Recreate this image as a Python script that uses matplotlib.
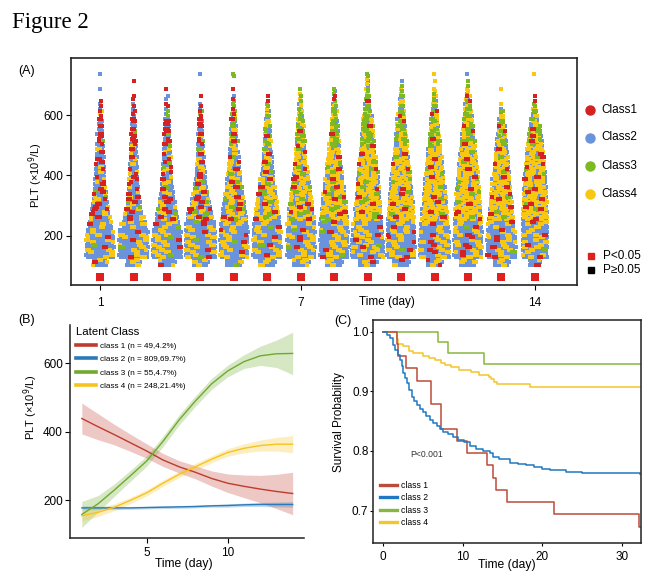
import numpy as np
import matplotlib
matplotlib.use("Agg")
import matplotlib.pyplot as plt
from matplotlib.lines import Line2D

plt.rcParams['font.family'] = ['Liberation Sans', 'DejaVu Sans']

W, H = 666.0, 586.0

# ------------------------------------------------------------------ Panel A data
DAYS = [1, 2, 3, 4, 5, 6, 7, 8, 9, 10, 11, 12, 13, 14]
TICK_DAYS = [1, 7, 14]
BIN_START = 100          # PLT bins of 25 (x10^9/L) starting at 100
BIN_WIDTH = 25
# number of patients per 25-unit PLT bin, per day
COUNT_D1 = [20, 40, 40, 40, 38, 33, 28, 24, 20, 18, 15, 13, 12, 11, 10, 9, 8, 7, 6, 5, 4, 3, 0, 1, 0, 1]
COUNT_D2 = [20, 40, 40, 40, 40, 34, 28, 23, 19, 17, 15, 13, 12, 11, 10, 9, 8, 7, 6, 5, 4, 2, 2, 0, 1, 0]
COUNT_D3 = [22, 42, 42, 40, 40, 35, 30, 26, 22, 18, 15, 13, 12, 11, 10, 9, 8, 7, 6, 5, 3, 2, 2, 1, 0, 0]
COUNT_D4 = [22, 42, 42, 42, 42, 40, 36, 32, 27, 22, 18, 15, 13, 11, 10, 9, 8, 7, 6, 5, 4, 2, 1, 0, 0, 1]
COUNT_D5 = [22, 40, 40, 40, 40, 38, 35, 32, 29, 26, 22, 19, 17, 15, 13, 11, 10, 9, 8, 7, 5, 3, 2, 1, 0, 2]
COUNT_D6 = [22, 40, 40, 40, 40, 38, 35, 32, 29, 26, 22, 19, 17, 15, 13, 11, 10, 9, 8, 6, 4, 3, 1, 0, 0, 0]
COUNT_D7 = [22, 40, 40, 40, 40, 40, 37, 34, 32, 29, 26, 23, 20, 17, 15, 14, 13, 11, 10, 8, 6, 4, 3, 1, 0, 0]
COUNT_D8 = [22, 40, 40, 40, 40, 40, 38, 36, 34, 31, 28, 25, 22, 20, 17, 15, 14, 12, 10, 8, 7, 5, 3, 2, 0, 0]
COUNT_D9 = [25, 45, 45, 44, 42, 40, 38, 37, 35, 33, 31, 30, 28, 25, 23, 21, 19, 18, 16, 15, 9, 7, 5, 4, 3, 2]
COUNT_D10 = [22, 40, 40, 40, 39, 38, 38, 36, 34, 32, 30, 28, 26, 23, 20, 18, 16, 14, 12, 10, 8, 6, 5, 3, 1, 0]
COUNT_D11 = [22, 42, 42, 41, 40, 38, 36, 35, 33, 32, 30, 28, 26, 24, 22, 19, 16, 14, 12, 10, 8, 6, 4, 2, 1, 1]
COUNT_D12 = [22, 40, 40, 40, 40, 39, 38, 37, 35, 34, 32, 30, 28, 26, 24, 21, 19, 16, 14, 12, 9, 7, 5, 3, 1, 1]
COUNT_D13 = [22, 40, 40, 40, 39, 37, 35, 33, 31, 29, 27, 25, 23, 21, 19, 17, 15, 12, 10, 7, 4, 1, 0, 1, 0, 0]
COUNT_D14 = [15, 35, 36, 36, 36, 36, 36, 35, 34, 33, 32, 31, 29, 27, 25, 23, 20, 17, 14, 10, 6, 3, 1, 0, 0, 1]
COUNTS = [COUNT_D1, COUNT_D2, COUNT_D3, COUNT_D4, COUNT_D5, COUNT_D6, COUNT_D7,
          COUNT_D8, COUNT_D9, COUNT_D10, COUNT_D11, COUNT_D12, COUNT_D13, COUNT_D14]
# class shares (%) [Class1, Class2, Class3, Class4] in PLT zones <250, 250-500, >=500
SHARE_LOW = [[3, 78, 1, 18], [3, 78, 1, 18], [3, 77, 2, 18], [4, 75, 2, 19], [3, 75, 2, 20],
             [3, 75, 2, 20], [4, 74, 2, 20], [4, 74, 2, 20], [5, 73, 1, 21], [5, 73, 1, 21],
             [6, 73, 1, 20], [6, 73, 1, 20], [6, 74, 1, 19], [5, 73, 1, 21]]
SHARE_MID = [[18, 66, 2, 14], [18, 66, 2, 14], [15, 63, 5, 17], [14, 58, 6, 22], [8, 52, 8, 32],
             [8, 48, 8, 36], [7, 42, 9, 42], [6, 38, 8, 48], [5, 36, 7, 52], [5, 38, 4, 53],
             [5, 38, 4, 53], [5, 38, 5, 52], [6, 40, 3, 51], [8, 36, 3, 53]]
SHARE_HIGH = [[50, 45, 2, 3], [50, 42, 4, 4], [45, 40, 10, 5], [45, 35, 10, 10], [18, 35, 27, 20],
              [12, 32, 30, 26], [8, 22, 40, 30], [6, 20, 40, 34], [5, 18, 42, 35], [3, 20, 37, 40],
              [4, 20, 32, 44], [4, 22, 30, 44], [3, 28, 29, 40], [10, 28, 27, 35]]
P_SIG = [True, True, True, True, True, True, True, True, True, True, True, True, True, True]
A_CLASSES = ["Class1", "Class2", "Class3", "Class4"]
A_COLORS = ["#D42222", "#6B93DB", "#7DBA22", "#F8C712"]

# ------------------------------------------------------------------ Panel B data
B_DAYS = [1, 2, 3, 4, 5, 6, 7, 8, 9, 10, 11, 12, 13, 14]
C1_MEAN = [439, 415, 392, 368, 344, 318, 298, 282, 264, 250, 241, 233, 226, 220]
C1_HALF = [45, 38, 30, 25, 21, 19, 18, 19, 22, 27, 33, 40, 50, 62]
C2_MEAN = [178, 178, 178, 178, 179, 180, 181, 182, 184, 185, 187, 188, 188, 188]
C2_HALF = [6, 5, 5, 4, 4, 4, 4, 4, 4, 5, 5, 6, 7, 8]
C3_MEAN = [159, 190, 230, 272, 315, 372, 435, 490, 540, 578, 605, 622, 628, 629]
C3_HALF = [38, 24, 18, 16, 15, 15, 15, 15, 16, 17, 20, 28, 40, 62]
C4_MEAN = [155, 165, 180, 200, 222, 250, 276, 298, 320, 340, 352, 360, 364, 364]
C4_HALF = [15, 12, 10, 9, 9, 9, 9, 10, 10, 11, 13, 16, 20, 25]
B_LABELS = ["class 1 (n = 49,4.2%)", "class 2 (n = 809,69.7%)",
            "class 3 (n = 55,4.7%)", "class 4 (n = 248,21.4%)"]
B_COLORS = ["#BF3B2C", "#2A7AB9", "#6FAA2E", "#F7C31E"]

# ------------------------------------------------------------------ Panel C data
KM1_T = [0, 1.7, 1.8, 2.9, 4.2, 5.95, 7.26, 9.3, 10.5, 13.1, 13.76, 14.2, 15.5, 21.5, 32.2, 32.3]
KM1_S = [1.0, 0.980, 0.959, 0.939, 0.918, 0.878, 0.837, 0.816, 0.796, 0.776, 0.755, 0.735, 0.714, 0.694, 0.673, 0.673]
KM2_T = [0, 0.2, 0.5, 0.85, 1.2, 1.5, 1.8, 2.1, 2.3, 2.5, 2.7, 2.95, 3.25, 3.6, 3.9, 4.2, 4.6, 5.0,
         5.4, 5.9, 6.3, 6.7, 7.1, 7.55, 8.2, 8.8, 9.4, 10.1, 10.9, 11.7, 12.5, 13.4, 13.8, 14.6,
         15.9, 17.0, 18.0, 18.9, 20.0, 21.0, 23.0, 25.0, 32.3]
KM2_S = [1.0, 1.0, 0.995, 0.989, 0.978, 0.969, 0.961, 0.953, 0.942, 0.930, 0.922, 0.914, 0.902, 0.891,
         0.884, 0.877, 0.871, 0.866, 0.859, 0.852, 0.846, 0.841, 0.836, 0.832, 0.828, 0.824, 0.819,
         0.815, 0.809, 0.804, 0.800, 0.796, 0.789, 0.786, 0.780, 0.778, 0.776, 0.773, 0.770, 0.768,
         0.765, 0.763, 0.761]
KM3_T = [0, 6.84, 8.18, 12.7, 32.3]
KM3_S = [1.0, 0.982, 0.964, 0.945, 0.945]
KM4_T = [0, 1.7, 1.9, 2.5, 3.3, 3.8, 5.0, 5.8, 6.5, 7.2, 7.8, 8.5, 9.5, 11.0, 12.0, 13.3, 13.6,
         13.9, 14.3, 18.5, 32.3]
KM4_S = [1.0, 0.988, 0.980, 0.976, 0.968, 0.964, 0.960, 0.956, 0.952, 0.948, 0.944, 0.940, 0.936,
         0.932, 0.928, 0.924, 0.920, 0.916, 0.912, 0.908, 0.908]
C_LABELS = ["class 1", "class 2", "class 3", "class 4"]
C_COLORS = ["#BC4B3C", "#1F78C1", "#86B83F", "#F5C52A"]


def px(x, y):
    """pixel (from top-left) -> figure fraction"""
    return x / W, 1 - y / H


fig = plt.figure(figsize=(6.66, 5.86), dpi=100)
fig.text(*px(12, 27.7), "Figure 2", family=["Liberation Serif", "DejaVu Serif"],
         fontsize=16.5, va="baseline", ha="left")

# ================================================================== Panel A
axA = fig.add_axes([71 / W, 1 - 285 / H, 506 / W, 227 / H])
axA.set_xlim(0.13, 15.26)
axA.set_ylim(37, 789)

dx = 2.1 / 33.45  # horizontal spacing of swarm points (day units)
allx, ally, allc = [], [], []
for di, day in enumerate(DAYS):
    k = 0
    for b, n in enumerate(COUNTS[di]):
        if n == 0:
            continue
        lo = BIN_START + b * BIN_WIDTH
        sizes = [n // 3 + (1 if r < n % 3 else 0) for r in range(3)]
        for order, r in enumerate([1, 0, 2]):
            m = sizes[order]
            if m == 0:
                continue
            yv = lo + BIN_WIDTH * (r + 0.5) / 3.0
            shift = dx / 4 if (b * 3 + r) % 2 else -dx / 4
            for j in range(m):
                xv = day + (j - (m - 1) / 2.0) * dx + shift
                if yv < 250:
                    sh = SHARE_LOW[di]
                elif yv < 500:
                    sh = SHARE_MID[di]
                else:
                    sh = SHARE_HIGH[di]
                cum = np.cumsum(sh) / float(sum(sh))
                u = ((k // 2) * 0.6180339887 + di * 0.2718) % 1.0
                c = int(np.searchsorted(cum, u, side="right"))
                c = min(c, 3)
                allx.append(xv)
                ally.append(yv)
                allc.append(c)
                k += 1
allx = np.array(allx); ally = np.array(ally); allc = np.array(allc)
for z, c in enumerate([1, 3, 2, 0]):
    sel = allc == c
    axA.scatter(allx[sel], ally[sel], s=5.0, marker="s", color=A_COLORS[c],
                linewidths=0, zorder=2 + z * 0.1)

# significance markers
for di, day in enumerate(DAYS):
    axA.scatter([day], [64], s=26, marker="s", color="#E0201E" if P_SIG[di] else "black",
                linewidths=0, zorder=4)

axA.set_xticks(TICK_DAYS)
axA.set_xticklabels([str(t) for t in TICK_DAYS])
axA.set_yticks([200, 400, 600])
axA.tick_params(axis="both", labelsize=8.5, length=3.5, width=0.8, direction="out")
axA.tick_params(axis="x", pad=5.5)
axA.tick_params(axis="y", pad=2)
for sp in axA.spines.values():
    sp.set_linewidth(1.2)
    sp.set_color("#222222")
axA.set_ylabel("PLT (\u00d710$^9$/L)", fontsize=8)
axA.yaxis.set_label_coords(-0.051, 0.485)
fig.text(*px(387, 301.7), "Time (day)", fontsize=8.5, ha="center", va="center")
fig.text(*px(27, 70.7), "(A)", fontsize=9, ha="center", va="center")

# class legend
for i, (name, col) in enumerate(zip(A_CLASSES, A_COLORS)):
    yy = [110, 137.5, 166, 194][i]
    fig.add_artist(Line2D([590 / W], [1 - yy / H], marker="o", markersize=6.5,
                          color=col, linestyle="none"))
    fig.text(*px(601.5, yy), name, fontsize=8.5, ha="left", va="center")
for yy, col, lab in [(256, "#E0201E", "P<0.05"), (270, "black", "P\u22650.05")]:
    fig.add_artist(Line2D([590.7 / W], [1 - yy / H], marker="s", markersize=3.8,
                          color=col, linestyle="none"))
    fig.text(*px(603.5, yy), lab, fontsize=8.5, ha="left", va="center")

# ================================================================== Panel B
axB = fig.add_axes([70 / W, 1 - 537.7 / H, 234 / W, 212.7 / H])
means = [C1_MEAN, C2_MEAN, C3_MEAN, C4_MEAN]
halves = [C1_HALF, C2_HALF, C3_HALF, C4_HALF]
for m, h, col, lab in zip(means, halves, B_COLORS, B_LABELS):
    m = np.array(m, float); h = np.array(h, float)
    axB.fill_between(B_DAYS, m - h, m + h, color=col, alpha=0.28, linewidth=0)
    axB.plot(B_DAYS, m, color=col, lw=1.0, label=lab)
axB.set_xlim(0.27, 14.7)
axB.set_ylim(91, 712)
axB.set_xticks([5, 10])
axB.set_yticks([200, 400, 600])
axB.spines["top"].set_visible(False)
axB.spines["right"].set_visible(False)
for sp in ["left", "bottom"]:
    axB.spines[sp].set_linewidth(1.1)
    axB.spines[sp].set_color("#222222")
axB.tick_params(axis="both", labelsize=8.5, length=3.5, width=0.8)
axB.tick_params(axis="x", pad=3.5)
axB.tick_params(axis="y", pad=1.5)
axB.set_ylabel("PLT (\u00d710$^9$/L)", fontsize=8)
axB.yaxis.set_label_coords(-0.13, 0.612)
axB.set_xlabel("Time (day)", fontsize=8.7)
axB.xaxis.set_label_coords(0.486, -0.095)
handlesB = [Line2D([], [], color=c, lw=2.6) for c in B_COLORS]
legB = axB.legend(handlesB, B_LABELS, title="Latent Class", loc="upper left",
                  bbox_to_anchor=(0.0, 1.019), frameon=False, fontsize=5.9,
                  title_fontsize=8.2, handlelength=2.5, handletextpad=0.5,
                  labelspacing=0.68, borderpad=0.2, alignment="left")
fig.text(*px(27, 320), "(B)", fontsize=9, ha="center", va="center")

# ================================================================== Panel C
axC = fig.add_axes([373.3 / W, 1 - 542.7 / H, 267.7 / W, 222.7 / H])
# draw in an order so that blue is on top of red where they overlap
for t, s, col in [(KM3_T, KM3_S, C_COLORS[2]), (KM4_T, KM4_S, C_COLORS[3]),
                  (KM1_T, KM1_S, C_COLORS[0]), (KM2_T, KM2_S, C_COLORS[1])]:
    axC.step(t, s, where="post", color=col, lw=1.1)
axC.set_xlim(-1.25, 32.4)
axC.set_ylim(0.646, 1.0196)
axC.set_xticks([0, 10, 20, 30])
axC.set_yticks([0.7, 0.8, 0.9, 1.0])
axC.set_yticklabels(["0.7", "0.8", "0.9", "1.0"])
for sp in axC.spines.values():
    sp.set_linewidth(1.1)
    sp.set_color("#222222")
axC.tick_params(axis="both", labelsize=8.5, length=2.5, width=0.8)
axC.tick_params(axis="x", pad=3.5)
axC.tick_params(axis="y", pad=1)
axC.set_ylabel("Survival Probability", fontsize=8.5)
axC.yaxis.set_label_coords(-0.104, 0.54)
axC.set_xlabel("Time (day)", fontsize=8.7)
axC.xaxis.set_label_coords(0.498, -0.073)
axC.text(5.4, 0.794, "P<0.001", fontsize=6.2, ha="center", va="center", color="#333333")
handlesC = [Line2D([], [], color=c, lw=2.4) for c in C_COLORS]
axC.legend(handlesC, C_LABELS, loc="lower left", bbox_to_anchor=(0.0, 0.04),
           frameon=False, fontsize=6.2, handlelength=2.0, handletextpad=0.4,
           labelspacing=0.38, borderpad=0.3)
fig.text(*px(343, 321), "(C)", fontsize=9, ha="center", va="center")

fig.savefig("out.png", dpi=100)
